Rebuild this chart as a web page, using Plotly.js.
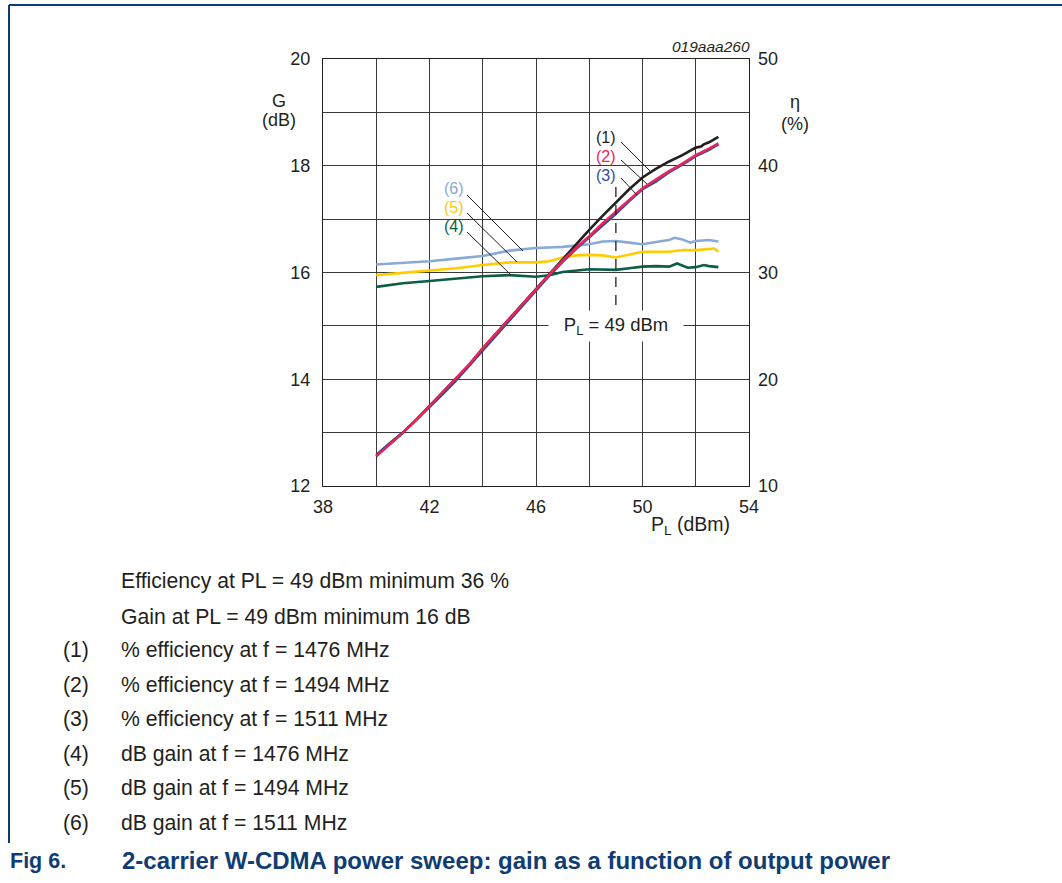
<!DOCTYPE html>
<html>
<head>
<meta charset="utf-8">
<script src="https://cdn.plot.ly/plotly-3.0.1.min.js"></script>
<style>
html,body{margin:0;padding:0;background:#fff;}
#chart{width:1062px;height:883px;}
</style>
</head>
<body>
<div id="chart"></div>
<script>
// ---------------- data ----------------
const xTicks = [38, 42, 46, 50, 54];
const gTicks = [12, 14, 16, 18, 20];
const etaTicks = [10, 20, 30, 40, 50];

// efficiency (%) curves
const eff1X = [40,40.5,41,41.5,42,42.5,43,43.5,44,44.5,45,45.5,46,46.5,47,47.5,48,48.5,49,49.5,50,50.3,50.5,51,51.5,52,52.2,52.3,52.5,52.85];
const eff1Y = [12.8,13.9,15.0,16.2,17.5,18.7,20.0,21.4,22.9,24.3,25.7,27.1,28.5,29.9,31.2,32.7,34.0,35.3,36.6,37.8,38.9,39.4,39.7,40.4,41.0,41.7,41.8,42.0,42.2,42.7];
const eff2X = [40,40.5,41,41.5,42,42.5,43,43.5,44,44.5,45,45.5,46,46.5,47,47.5,48,48.5,49,49.5,50,50.5,51,51.5,52,52.5,52.85];
const eff2Y = [12.8,13.9,15.0,16.2,17.5,18.7,20.0,21.4,22.9,24.3,25.6,27.0,28.4,29.8,31.1,32.3,33.4,34.6,35.7,36.8,37.9,38.7,39.5,40.2,41.0,41.6,42.1];
const eff3X = eff2X;
const eff3Y = [12.9,14.0,15.0,16.2,17.4,18.6,19.9,21.3,22.8,24.2,25.5,26.9,28.3,29.7,31.0,32.2,33.3,34.4,35.5,36.7,37.8,38.5,39.4,40.1,40.9,41.5,42.0];

// gain (dB) curves
const g4X = [40,41,42,43,44,45,45.5,46,46.5,47,48,48.5,49,49.5,50,50.5,51,51.3,51.7,52,52.3,52.5,52.85];
const g4Y = [15.73,15.80,15.84,15.88,15.93,15.95,15.94,15.92,15.95,16.01,16.06,16.06,16.05,16.08,16.11,16.12,16.11,16.17,16.09,16.10,16.14,16.12,16.10];
const g5X = [40,41,42,43,44,45,46,46.5,47,47.5,48,48.5,49,49.5,50,50.5,51,51.5,52,52.5,52.7,52.85];
const g5Y = [15.95,15.99,16.03,16.08,16.14,16.19,16.19,16.21,16.28,16.32,16.33,16.32,16.28,16.34,16.39,16.39,16.39,16.42,16.42,16.44,16.45,16.39];
const g6X = [40,41,42,43,44,45,46,47,48,48.5,49,49.5,50,50.5,51,51.2,51.5,51.8,52,52.5,52.85];
const g6Y = [16.15,16.18,16.21,16.26,16.31,16.41,16.46,16.48,16.53,16.58,16.59,16.56,16.53,16.57,16.61,16.65,16.62,16.56,16.59,16.61,16.58];

const seriesLabels = ["(1)","(2)","(3)","(4)","(5)","(6)"];
const listTexts = [
  "% efficiency at f = 1476 MHz",
  "% efficiency at f = 1494 MHz",
  "% efficiency at f = 1511 MHz",
  "dB gain at f = 1476 MHz",
  "dB gain at f = 1494 MHz",
  "dB gain at f = 1511 MHz"
];
const noteTexts = [
  "Efficiency at PL = 49 dBm minimum 36 %",
  "Gain at PL = 49 dBm minimum 16 dB"
];
const figNo = "Fig 6.";
const figTitle = "2-carrier W-CDMA power sweep: gain as a function of output power";
const markerPL = 49;

// ---------------- styles ----------------
const FONT = "Liberation Sans, Arial, Helvetica, sans-serif";
const C = {
  black: "#231F20", red: "#E8265A", blue: "#2F4F9A",
  green: "#0B5E45", yellow: "#FFCC00", lblue: "#8AAAD6",
  navy: "#0F3D73", grid: "#3a3a3a"
};

const W = 1062, H = 883;
const X0 = 323, X1 = 749, Y0 = 59, Y1 = 486;
const px = p => (p - X0) / (X1 - X0);
const py = p => (Y1 - p) / (Y1 - Y0);

function line(x, y, color, axis) {
  return {x, y, type: "scatter", mode: "lines", yaxis: axis,
    line: {color, width: 2.6, shape: "linear"}, hoverinfo: "skip"};
}

const traces = [
  line(g6X, g6Y, C.lblue, "y"),
  line(g5X, g5Y, C.yellow, "y"),
  line(g4X, g4Y, C.green, "y"),
  line(eff3X, eff3Y, C.blue, "y2"),
  line(eff1X, eff1Y, C.black, "y2"),
  line(eff2X, eff2Y, C.red, "y2")
];

const annotations = [];
const shapes = [];
function txt(x, y, text, opts) {
  annotations.push(Object.assign({
    xref: "paper", yref: "paper", x: px(x), y: py(y), text,
    showarrow: false, xanchor: "center", yanchor: "middle", borderpad: 0,
    font: {family: FONT, size: 18, color: C.black}
  }, opts || {}));
}
function seg(x0, y0, x1, y1, color, width, dash) {
  shapes.push({type: "line", xref: "paper", yref: "paper",
    x0: px(x0), y0: py(y0), x1: px(x1), y1: py(y1),
    line: {color, width, dash: dash || "solid"}});
}

// axis titles
txt(279, 101, "G");
txt(279, 120, "(dB)");
txt(795, 102, "η");
txt(795, 124, "(%)");
txt(690, 525, "P<sub>L</sub> (dBm)", {font: {family: FONT, size: 19.5, color: C.black}});
txt(751, 47, "<i>019aaa260</i>", {xanchor: "right", font: {family: FONT, size: 15.5, color: C.black}});

// series labels with leader lines
const labColors = [C.black, C.red, C.blue, C.green, C.yellow, C.lblue];
const labPos = [[606,137],[606,156],[606,175],[454,226],[454,207],[454,188]];
const leader = [
  [621,142,650,171],[621,160,647,184],[621,178,637,195],
  [467,232,511,275],[467,213,517,262],[467,195,523,251]
];
for (let i = 0; i < 6; i++) {
  txt(labPos[i][0], labPos[i][1], seriesLabels[i], {font: {family: FONT, size: 16, color: labColors[i]}});
  seg(leader[i][0], leader[i][1], leader[i][2], leader[i][3], C.black, 1);
}

// PL = 49 dBm marker
shapes.push({type: "line", xref: "x", yref: "y", x0: markerPL, x1: markerPL, y0: 17.6, y1: 15.3,
  line: {color: C.black, width: 1.3, dash: "10px,8px"}});
annotations.push({xref: "x", yref: "y", x: markerPL, y: 15, showarrow: false,
  text: "P<sub>L</sub> = " + markerPL + " dBm", bgcolor: "#fff",
  width: 128, height: 24, borderpad: 3,
  font: {family: FONT, size: 18.5, color: C.black}});

// notes and list below chart
const BODY = {family: FONT, size: 21.2, color: C.black};
txt(120, 581, noteTexts[0], {xanchor: "left", font: BODY});
txt(120, 616, noteTexts[1], {xanchor: "left", font: BODY});
const listY = [650, 685, 719, 754, 788, 823];
for (let i = 0; i < 6; i++) {
  txt(62, listY[i], seriesLabels[i], {xanchor: "left", font: BODY});
  txt(120, listY[i], listTexts[i], {xanchor: "left", font: BODY});
}
txt(9, 861, "<b>" + figNo + "</b>", {xanchor: "left", font: {family: FONT, size: 21.5, color: C.navy}});
txt(121, 861, "<b>" + figTitle + "</b>", {xanchor: "left", font: {family: FONT, size: 24, color: C.navy}});

// page frame lines
seg(9, 5, 1062, 5, C.navy, 2);
seg(9, 5, 9, 843, C.navy, 2);

const axisCommon = {
  showline: true, linecolor: C.black, linewidth: 1, mirror: true,
  zeroline: false, ticks: "", showgrid: true, gridcolor: C.grid, gridwidth: 1,
  tickfont: {family: FONT, size: 18, color: C.black}, fixedrange: true
};

const layout = {
  width: W, height: H,
  margin: {l: X0, r: W - X1, t: Y0, b: H - Y1, pad: 0},
  paper_bgcolor: "#fff", plot_bgcolor: "#fff",
  showlegend: false,
  xaxis: Object.assign({}, axisCommon, {
    range: [38, 54], tickmode: "array", tickvals: xTicks, ticktext: xTicks.map(String),
    minor: {tickmode: "linear", tick0: 38, dtick: 2, showgrid: true, gridcolor: C.grid, gridwidth: 1, ticks: ""},
    ticklabelstandoff: 4
  }),
  yaxis: Object.assign({}, axisCommon, {
    range: [12, 20], tickmode: "array", tickvals: gTicks, ticktext: gTicks.map(String),
    minor: {tickmode: "linear", tick0: 12, dtick: 1, showgrid: true, gridcolor: C.grid, gridwidth: 1, ticks: ""},
    ticklabelstandoff: 8
  }),
  yaxis2: {
    overlaying: "y", side: "right", range: [10, 50],
    tickmode: "array", tickvals: etaTicks, ticktext: etaTicks.map(String),
    showgrid: false, zeroline: false, showline: false, ticks: "",
    tickfont: {family: FONT, size: 18, color: C.black}, ticklabelstandoff: 8, fixedrange: true
  },
  annotations, shapes
};

Plotly.newPlot("chart", traces, layout, {displayModeBar: false, staticPlot: true});
</script>
</body>
</html>
